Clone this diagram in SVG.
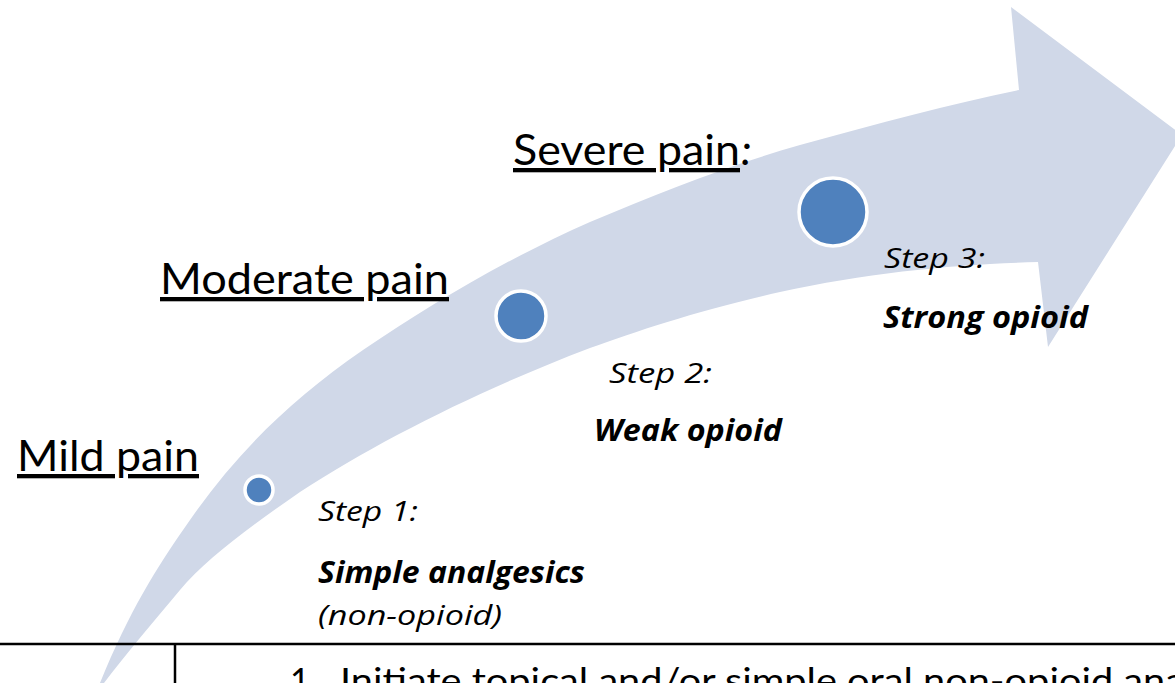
<svg xmlns="http://www.w3.org/2000/svg" width="1175" height="683" viewBox="0 0 1175 683">
<style>
.lbl{font-family:Lato,"Liberation Sans",sans-serif;font-size:43px;fill:#000}
.ul{text-decoration:underline}
.st{font-family:"Open Sans","Liberation Sans",sans-serif;font-style:italic;font-size:28px;fill:#000}
.sb{font-family:"Open Sans","Liberation Sans",sans-serif;font-style:italic;font-weight:bold;font-size:30px;fill:#000}
.dot{fill:#4F81BD;stroke:#fff;stroke-width:3.5}
.rule{stroke:#000;stroke-width:2.5;fill:none}
.body{font-family:Lato,"Liberation Sans",sans-serif;font-size:34px;fill:#000}
</style>
<rect width="1175" height="683" fill="#fff"/>
<g id="arrow">
<path fill="#D0D8E8" d="M100,683 C130,610 155,570 190,520 C235,455 290,400 363,350 C430,305 500,262 590,222 C660,192 730,165 800,145 C880,123 950,104 1019,90 L1011,7 L1182,135 L1048,347 L1038,262 C960,264 870,272 780,292 C700,310 640,330 590,348 C480,390 380,440 300,492 C245,530 205,560 180,590 C155,620 125,655 104,683 Z"/>
</g>
<g id="step1">
<circle class="dot" cx="259" cy="490" r="14"/>
<text class="lbl" x="17" y="471" textLength="182" lengthAdjust="spacingAndGlyphs"><tspan class="ul">Mild pain</tspan></text>
<text class="st" x="318" y="521" textLength="100" lengthAdjust="spacingAndGlyphs">Step 1:</text>
<text class="sb" x="318" y="583" textLength="267" lengthAdjust="spacingAndGlyphs">Simple analgesics</text>
<text class="st" x="318" y="625" textLength="184" lengthAdjust="spacingAndGlyphs">(non-opioid)</text>
</g>
<g id="step2">
<circle class="dot" cx="521" cy="316" r="25"/>
<text class="lbl ul" x="160" y="294" textLength="289" lengthAdjust="spacingAndGlyphs">Moderate pain</text>
<text class="st" x="609" y="383" textLength="103" lengthAdjust="spacingAndGlyphs">Step 2:</text>
<text class="sb" x="594" y="441" textLength="188" lengthAdjust="spacingAndGlyphs">Weak opioid</text>
</g>
<g id="step3">
<circle class="dot" cx="833" cy="212" r="34"/>
<text class="lbl" x="513" y="165"><tspan class="ul" textLength="227" lengthAdjust="spacingAndGlyphs">Severe pain</tspan><tspan font-style="italic" dx="1">:</tspan></text>
<text class="st" x="884" y="268" textLength="101" lengthAdjust="spacingAndGlyphs">Step 3:</text>
<text class="sb" x="883" y="328" textLength="205" lengthAdjust="spacingAndGlyphs">Strong opioid</text>
</g>
<g id="table">
<line class="rule" x1="0" y1="644" x2="1175" y2="644"/>
<line class="rule" x1="175" y1="644" x2="175" y2="683" stroke-width="2"/>
<text class="body" x="290" y="693">1.</text>
<text class="body" x="340" y="693" textLength="845" lengthAdjust="spacingAndGlyphs">Initiate topical and/or simple oral non-opioid ana</text>
</g>
</svg>
